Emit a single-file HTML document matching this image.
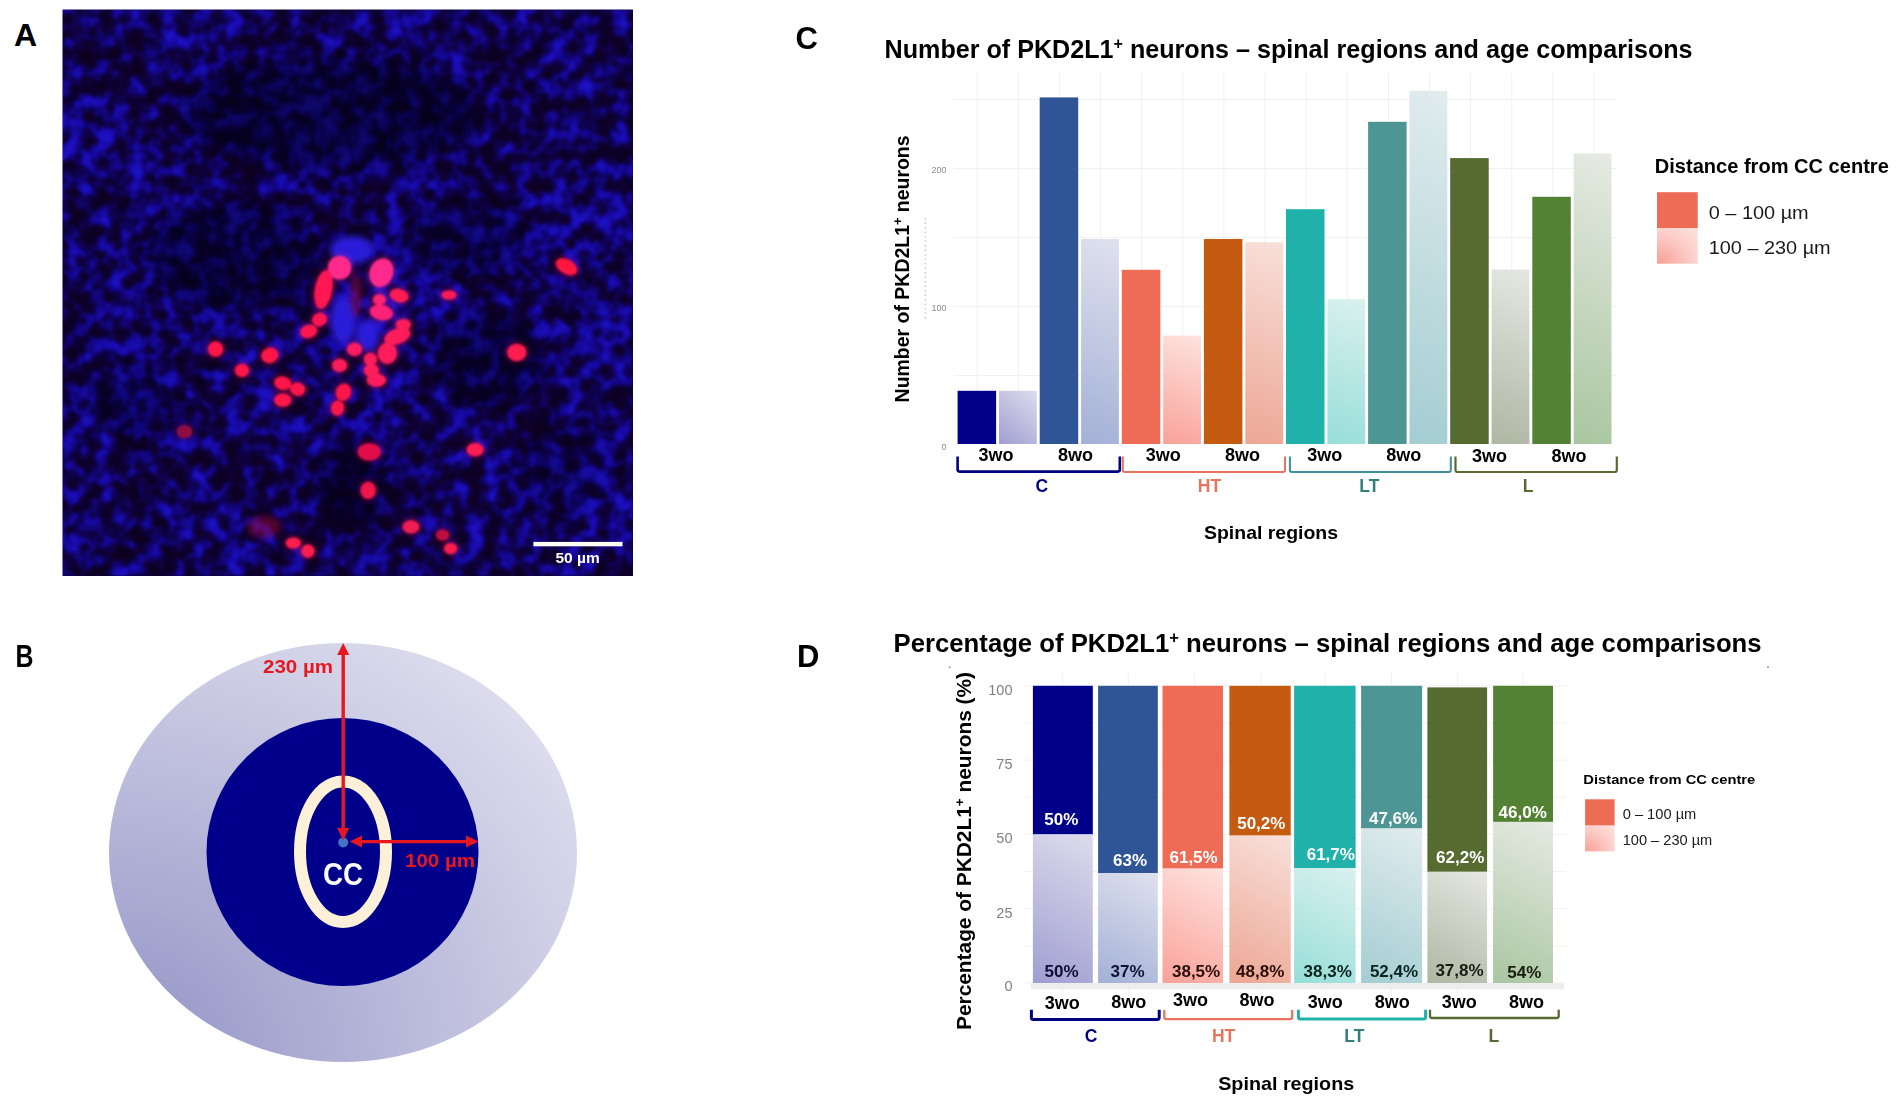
<!DOCTYPE html>
<html lang="en"><head><meta charset="utf-8"><title>PKD2L1 neurons figure</title>
<style>html,body{margin:0;padding:0;background:#fff;}body{width:1902px;height:1105px;overflow:hidden;}svg{display:block;font-family:"Liberation Sans",sans-serif;}</style>
</head><body>
<svg width="1902" height="1105" viewBox="0 0 1902 1105">
<rect width="1902" height="1105" fill="#ffffff"/>
<defs>
<filter id="cells" x="0" y="0" width="100%" height="100%" color-interpolation-filters="sRGB">
<feTurbulence type="fractalNoise" baseFrequency="0.062" numOctaves="2" seed="11" result="n"/>
<feColorMatrix in="n" type="matrix" values="0 0 1 0 0  0 0 1 0 0  0 0 1 0 0  0 0 0 0 1" result="g"/>
<feTurbulence type="fractalNoise" baseFrequency="0.011" numOctaves="2" seed="3" result="m"/>
<feColorMatrix in="m" type="matrix" values="1 0 0 0 0  1 0 0 0 0  1 0 0 0 0  0 0 0 0 1" result="mg"/>
<feComposite in="g" in2="mg" operator="arithmetic" k1="0" k2="1" k3="0.36" k4="-0.17" result="gm"/>
<feComponentTransfer in="gm">
<feFuncR type="table" tableValues="0.05 0.05 0.05 0.05 0.055 0.06 0.075 0.09 0.11 0.12 0.12"/>
<feFuncG type="table" tableValues="0 0 0 0 0.005 0.01 0.02 0.04 0.06 0.07 0.07"/>
<feFuncB type="table" tableValues="0.13 0.13 0.13 0.15 0.20 0.31 0.49 0.65 0.74 0.78 0.78"/>
</feComponentTransfer>
<feGaussianBlur stdDeviation="1.0"/></filter>
<filter id="b1"><feGaussianBlur stdDeviation="1.3"/></filter>
<filter id="b3"><feGaussianBlur stdDeviation="3"/></filter>
<filter id="b8"><feGaussianBlur stdDeviation="9"/></filter>
<clipPath id="clipA"><rect x="62.5" y="9.5" width="570.5" height="566.5"/></clipPath>
<radialGradient id="gOuter" cx="0" cy="1" fx="0" fy="1" r="1.414"><stop offset="0" stop-color="rgb(145,145,197)"/><stop offset="1" stop-color="rgb(233,233,244)"/></radialGradient>
<radialGradient id="gLeg" cx="0" cy="1" fx="0" fy="1" r="1.3"><stop offset="0" stop-color="#f89d93"/><stop offset="0.55" stop-color="#fcc6c0"/><stop offset="1" stop-color="#fde0dc"/></radialGradient>
</defs>
<defs><linearGradient id="u0" gradientUnits="userSpaceOnUse" x1="999.0" y1="444.6" x2="1041.1" y2="394.4"><stop offset="0" stop-color="#a09ed2"/><stop offset="1" stop-color="#dddcec"/></linearGradient><linearGradient id="u1" gradientUnits="userSpaceOnUse" x1="1081.1" y1="444.6" x2="1157.8" y2="254.7"><stop offset="0" stop-color="#a3b0d6"/><stop offset="1" stop-color="#dfe1ee"/></linearGradient><linearGradient id="u2" gradientUnits="userSpaceOnUse" x1="1163.2" y1="444.6" x2="1206.4" y2="337.7"><stop offset="0" stop-color="#f9a198"/><stop offset="1" stop-color="#fee3df"/></linearGradient><linearGradient id="u3" gradientUnits="userSpaceOnUse" x1="1245.3" y1="444.6" x2="1320.9" y2="257.4"><stop offset="0" stop-color="#eda694"/><stop offset="1" stop-color="#f8e0da"/></linearGradient><linearGradient id="u4" gradientUnits="userSpaceOnUse" x1="1327.4" y1="444.6" x2="1383.2" y2="306.4"><stop offset="0" stop-color="#97ded8"/><stop offset="1" stop-color="#daf1ef"/></linearGradient><linearGradient id="u5" gradientUnits="userSpaceOnUse" x1="1409.5" y1="444.6" x2="1537.7" y2="127.3"><stop offset="0" stop-color="#a3cdd2"/><stop offset="1" stop-color="#e1ecee"/></linearGradient><linearGradient id="u6" gradientUnits="userSpaceOnUse" x1="1491.6" y1="444.6" x2="1557.7" y2="280.9"><stop offset="0" stop-color="#aeb6a3"/><stop offset="1" stop-color="#e5e8e2"/></linearGradient><linearGradient id="u7" gradientUnits="userSpaceOnUse" x1="1573.7" y1="444.6" x2="1680.1" y2="181.2"><stop offset="0" stop-color="#a9c6a0"/><stop offset="1" stop-color="#e6eae3"/></linearGradient><linearGradient id="u8" gradientUnits="userSpaceOnUse" x1="1032.9" y1="983.0" x2="1107.7" y2="842.3"><stop offset="0" stop-color="#a09ed2"/><stop offset="1" stop-color="#dddcec"/></linearGradient><linearGradient id="u9" gradientUnits="userSpaceOnUse" x1="1098.1" y1="983.0" x2="1156.8" y2="872.5"><stop offset="0" stop-color="#a3b0d6"/><stop offset="1" stop-color="#dfe1ee"/></linearGradient><linearGradient id="u10" gradientUnits="userSpaceOnUse" x1="1162.5" y1="983.0" x2="1223.3" y2="868.7"><stop offset="0" stop-color="#f9a198"/><stop offset="1" stop-color="#fee3df"/></linearGradient><linearGradient id="u11" gradientUnits="userSpaceOnUse" x1="1229.4" y1="983.0" x2="1304.0" y2="842.7"><stop offset="0" stop-color="#eda694"/><stop offset="1" stop-color="#f8e0da"/></linearGradient><linearGradient id="u12" gradientUnits="userSpaceOnUse" x1="1294.1" y1="983.0" x2="1355.3" y2="867.8"><stop offset="0" stop-color="#97ded8"/><stop offset="1" stop-color="#daf1ef"/></linearGradient><linearGradient id="u13" gradientUnits="userSpaceOnUse" x1="1361.1" y1="983.0" x2="1438.6" y2="837.2"><stop offset="0" stop-color="#a3cdd2"/><stop offset="1" stop-color="#e1ecee"/></linearGradient><linearGradient id="u14" gradientUnits="userSpaceOnUse" x1="1427.4" y1="983.0" x2="1486.6" y2="871.6"><stop offset="0" stop-color="#aeb6a3"/><stop offset="1" stop-color="#e5e8e2"/></linearGradient><linearGradient id="u15" gradientUnits="userSpaceOnUse" x1="1493.1" y1="983.0" x2="1573.1" y2="832.6"><stop offset="0" stop-color="#a9c6a0"/><stop offset="1" stop-color="#e6eae3"/></linearGradient></defs>
<g id="panelA">
<text x="14" y="46.3" font-size="32" font-weight="bold" fill="#000" text-anchor="start" >A</text>
<g clip-path="url(#clipA)">
<rect x="62.5" y="9.5" width="570.5" height="566.5" fill="#0b0030"/>
<rect x="62.5" y="9.5" width="570.5" height="566.5" filter="url(#cells)"/>
<g filter="url(#b8)" fill="#08001c">
<ellipse cx="330" cy="112" rx="150" ry="55" opacity="0.5"/>
<ellipse cx="232" cy="255" rx="85" ry="55" opacity="0.45"/>
<ellipse cx="487" cy="359" rx="55" ry="48" opacity="0.4"/>
<ellipse cx="466" cy="239" rx="60" ry="38" opacity="0.35"/>
<ellipse cx="351" cy="484" rx="35" ry="45" opacity="0.4"/>
<ellipse cx="128" cy="400" rx="40" ry="35" opacity="0.3"/>
<ellipse cx="560" cy="470" rx="40" ry="40" opacity="0.25"/>
</g>
<g filter="url(#b3)" fill="#2a1ad8">
<ellipse cx="352" cy="250" rx="22" ry="14"/>
<ellipse cx="343" cy="320" rx="13" ry="24"/>
<ellipse cx="368" cy="335" rx="12" ry="16"/>
</g>
<g filter="url(#b3)" fill="#c0102a" opacity="0.4">
<ellipse cx="264" cy="527" rx="17" ry="11"/>
<ellipse cx="356" cy="295" rx="6" ry="22"/>
</g>
<g filter="url(#b3)" opacity="0.45">
<ellipse cx="339.6" cy="267.7" rx="12.5" ry="12.5" fill="#ff2a8c" transform="rotate(0 339.6 267.7)"/>
<ellipse cx="381.4" cy="272.7" rx="12.5" ry="15.5" fill="#ff2a8c" transform="rotate(20 381.4 272.7)"/>
<ellipse cx="323.6" cy="289.6" rx="9.5" ry="20.5" fill="#ff1452" transform="rotate(10 323.6 289.6)"/>
<ellipse cx="399.3" cy="295.6" rx="10.5" ry="7.5" fill="#ff1a55" transform="rotate(15 399.3 295.6)"/>
<ellipse cx="449" cy="295" rx="8.5" ry="5.5" fill="#ff1a55" transform="rotate(0 449 295)"/>
<ellipse cx="566.6" cy="266.7" rx="12.5" ry="8.0" fill="#ff1440" transform="rotate(30 566.6 266.7)"/>
<ellipse cx="379.4" cy="299.6" rx="7.5" ry="6.5" fill="#ff2070" transform="rotate(0 379.4 299.6)"/>
<ellipse cx="381.4" cy="312.5" rx="12.5" ry="8.5" fill="#ff2078" transform="rotate(10 381.4 312.5)"/>
<ellipse cx="319.6" cy="319.5" rx="8.5" ry="7.5" fill="#ff1450" transform="rotate(-20 319.6 319.5)"/>
<ellipse cx="308.7" cy="331.4" rx="9.5" ry="7.5" fill="#ff1450" transform="rotate(-15 308.7 331.4)"/>
<ellipse cx="403.3" cy="324.5" rx="8.5" ry="6.5" fill="#ff1a5a" transform="rotate(0 403.3 324.5)"/>
<ellipse cx="397.3" cy="336.4" rx="14.5" ry="8.5" fill="#ff1a5a" transform="rotate(-20 397.3 336.4)"/>
<ellipse cx="354.5" cy="349.3" rx="8.5" ry="7.5" fill="#ff1a60" transform="rotate(0 354.5 349.3)"/>
<ellipse cx="387.4" cy="353.3" rx="10.5" ry="11.5" fill="#ff1a5a" transform="rotate(0 387.4 353.3)"/>
<ellipse cx="370.4" cy="359.3" rx="7.5" ry="7.5" fill="#ff1a5a" transform="rotate(0 370.4 359.3)"/>
<ellipse cx="339.6" cy="365.3" rx="8.5" ry="7.5" fill="#ff1a5a" transform="rotate(0 339.6 365.3)"/>
<ellipse cx="371.4" cy="370.3" rx="8.5" ry="7.5" fill="#ff1a5a" transform="rotate(0 371.4 370.3)"/>
<ellipse cx="376.4" cy="380.2" rx="10.5" ry="7.5" fill="#ff1a5a" transform="rotate(0 376.4 380.2)"/>
<ellipse cx="269.9" cy="355.3" rx="9.5" ry="8.5" fill="#ff1448" transform="rotate(-20 269.9 355.3)"/>
<ellipse cx="242" cy="370.3" rx="8.0" ry="7.5" fill="#ff1448" transform="rotate(0 242 370.3)"/>
<ellipse cx="282.8" cy="383.2" rx="9.5" ry="7.5" fill="#ff1448" transform="rotate(10 282.8 383.2)"/>
<ellipse cx="297.7" cy="389.2" rx="8.5" ry="7.5" fill="#ff1448" transform="rotate(10 297.7 389.2)"/>
<ellipse cx="282.8" cy="400.1" rx="9.5" ry="7.5" fill="#ff1448" transform="rotate(0 282.8 400.1)"/>
<ellipse cx="343.5" cy="392.2" rx="8.5" ry="9.5" fill="#ff1448" transform="rotate(20 343.5 392.2)"/>
<ellipse cx="337.6" cy="408.1" rx="7.5" ry="8.5" fill="#ff1448" transform="rotate(10 337.6 408.1)"/>
<ellipse cx="516.8" cy="352.3" rx="10.5" ry="9.5" fill="#ff1a50" transform="rotate(0 516.8 352.3)"/>
<ellipse cx="215.6" cy="349.2" rx="8.5" ry="8.5" fill="#ff1448" transform="rotate(0 215.6 349.2)"/>
<ellipse cx="369.3" cy="451.8" rx="12.5" ry="9.5" fill="#e0104a" transform="rotate(0 369.3 451.8)"/>
<ellipse cx="475.2" cy="449.7" rx="9.5" ry="7.5" fill="#ff1a55" transform="rotate(0 475.2 449.7)"/>
<ellipse cx="368.2" cy="490.4" rx="8.5" ry="9.5" fill="#f01448" transform="rotate(0 368.2 490.4)"/>
<ellipse cx="411" cy="526.8" rx="9.5" ry="7.5" fill="#f01a55" transform="rotate(0 411 526.8)"/>
<ellipse cx="442.6" cy="535" rx="7.5" ry="6.5" fill="#c01040" transform="rotate(0 442.6 535)"/>
<ellipse cx="450.7" cy="548.5" rx="7.5" ry="6.5" fill="#ff1a50" transform="rotate(0 450.7 548.5)"/>
<ellipse cx="293.3" cy="543" rx="8.5" ry="6.5" fill="#ff1a50" transform="rotate(0 293.3 543)"/>
<ellipse cx="307.9" cy="551.2" rx="7.5" ry="7.5" fill="#ff1a50" transform="rotate(0 307.9 551.2)"/>
<ellipse cx="184.6" cy="431.7" rx="8.5" ry="7.5" fill="#901040" transform="rotate(0 184.6 431.7)"/>
</g>
<g filter="url(#b1)" opacity="1">
<ellipse cx="339.6" cy="267.7" rx="11.6" ry="11.6" fill="#ff2a8c" transform="rotate(0 339.6 267.7)"/>
<ellipse cx="381.4" cy="272.7" rx="11.6" ry="14.6" fill="#ff2a8c" transform="rotate(20 381.4 272.7)"/>
<ellipse cx="323.6" cy="289.6" rx="8.6" ry="19.6" fill="#ff1452" transform="rotate(10 323.6 289.6)"/>
<ellipse cx="399.3" cy="295.6" rx="9.6" ry="6.6" fill="#ff1a55" transform="rotate(15 399.3 295.6)"/>
<ellipse cx="449" cy="295" rx="7.6" ry="4.6" fill="#ff1a55" transform="rotate(0 449 295)"/>
<ellipse cx="566.6" cy="266.7" rx="11.6" ry="7.1" fill="#ff1440" transform="rotate(30 566.6 266.7)"/>
<ellipse cx="379.4" cy="299.6" rx="6.6" ry="5.6" fill="#ff2070" transform="rotate(0 379.4 299.6)"/>
<ellipse cx="381.4" cy="312.5" rx="11.6" ry="7.6" fill="#ff2078" transform="rotate(10 381.4 312.5)"/>
<ellipse cx="319.6" cy="319.5" rx="7.6" ry="6.6" fill="#ff1450" transform="rotate(-20 319.6 319.5)"/>
<ellipse cx="308.7" cy="331.4" rx="8.6" ry="6.6" fill="#ff1450" transform="rotate(-15 308.7 331.4)"/>
<ellipse cx="403.3" cy="324.5" rx="7.6" ry="5.6" fill="#ff1a5a" transform="rotate(0 403.3 324.5)"/>
<ellipse cx="397.3" cy="336.4" rx="13.6" ry="7.6" fill="#ff1a5a" transform="rotate(-20 397.3 336.4)"/>
<ellipse cx="354.5" cy="349.3" rx="7.6" ry="6.6" fill="#ff1a60" transform="rotate(0 354.5 349.3)"/>
<ellipse cx="387.4" cy="353.3" rx="9.6" ry="10.6" fill="#ff1a5a" transform="rotate(0 387.4 353.3)"/>
<ellipse cx="370.4" cy="359.3" rx="6.6" ry="6.6" fill="#ff1a5a" transform="rotate(0 370.4 359.3)"/>
<ellipse cx="339.6" cy="365.3" rx="7.6" ry="6.6" fill="#ff1a5a" transform="rotate(0 339.6 365.3)"/>
<ellipse cx="371.4" cy="370.3" rx="7.6" ry="6.6" fill="#ff1a5a" transform="rotate(0 371.4 370.3)"/>
<ellipse cx="376.4" cy="380.2" rx="9.6" ry="6.6" fill="#ff1a5a" transform="rotate(0 376.4 380.2)"/>
<ellipse cx="269.9" cy="355.3" rx="8.6" ry="7.6" fill="#ff1448" transform="rotate(-20 269.9 355.3)"/>
<ellipse cx="242" cy="370.3" rx="7.1" ry="6.6" fill="#ff1448" transform="rotate(0 242 370.3)"/>
<ellipse cx="282.8" cy="383.2" rx="8.6" ry="6.6" fill="#ff1448" transform="rotate(10 282.8 383.2)"/>
<ellipse cx="297.7" cy="389.2" rx="7.6" ry="6.6" fill="#ff1448" transform="rotate(10 297.7 389.2)"/>
<ellipse cx="282.8" cy="400.1" rx="8.6" ry="6.6" fill="#ff1448" transform="rotate(0 282.8 400.1)"/>
<ellipse cx="343.5" cy="392.2" rx="7.6" ry="8.6" fill="#ff1448" transform="rotate(20 343.5 392.2)"/>
<ellipse cx="337.6" cy="408.1" rx="6.6" ry="7.6" fill="#ff1448" transform="rotate(10 337.6 408.1)"/>
<ellipse cx="516.8" cy="352.3" rx="9.6" ry="8.6" fill="#ff1a50" transform="rotate(0 516.8 352.3)"/>
<ellipse cx="215.6" cy="349.2" rx="7.6" ry="7.6" fill="#ff1448" transform="rotate(0 215.6 349.2)"/>
<ellipse cx="369.3" cy="451.8" rx="11.6" ry="8.6" fill="#e0104a" transform="rotate(0 369.3 451.8)"/>
<ellipse cx="475.2" cy="449.7" rx="8.6" ry="6.6" fill="#ff1a55" transform="rotate(0 475.2 449.7)"/>
<ellipse cx="368.2" cy="490.4" rx="7.6" ry="8.6" fill="#f01448" transform="rotate(0 368.2 490.4)"/>
<ellipse cx="411" cy="526.8" rx="8.6" ry="6.6" fill="#f01a55" transform="rotate(0 411 526.8)"/>
<ellipse cx="442.6" cy="535" rx="6.6" ry="5.6" fill="#c01040" transform="rotate(0 442.6 535)"/>
<ellipse cx="450.7" cy="548.5" rx="6.6" ry="5.6" fill="#ff1a50" transform="rotate(0 450.7 548.5)"/>
<ellipse cx="293.3" cy="543" rx="7.6" ry="5.6" fill="#ff1a50" transform="rotate(0 293.3 543)"/>
<ellipse cx="307.9" cy="551.2" rx="6.6" ry="6.6" fill="#ff1a50" transform="rotate(0 307.9 551.2)"/>
<ellipse cx="184.6" cy="431.7" rx="7.6" ry="6.6" fill="#901040" transform="rotate(0 184.6 431.7)"/>
</g>
<rect x="533.4" y="541.9" width="89.1" height="4.4" fill="#fff"/>
<text x="577.6" y="563" font-size="15.5" font-weight="bold" fill="#fff" text-anchor="middle" >50 µm</text>
</g></g>
<g id="panelB">
<text x="15.5" y="667.2" font-size="31" font-weight="bold" fill="#000" text-anchor="start" textLength="18" lengthAdjust="spacingAndGlyphs" >B</text>
<ellipse cx="343" cy="852.5" rx="234" ry="209.5" fill="url(#gOuter)"/>
<ellipse cx="342.5" cy="852" rx="136" ry="134" fill="#00008b"/>
<ellipse cx="343" cy="851.7" rx="43" ry="70.3" fill="none" stroke="#fdf0d8" stroke-width="12"/>
<circle cx="343.2" cy="842.4" r="5" fill="#4472c4"/>
<g stroke="#e8171f" fill="#e8171f" stroke-width="3.4"><line x1="343.2" y1="652" x2="343.2" y2="830"/><line x1="358" y1="841.6" x2="470" y2="841.6"/>
<path d="M343.2 643 L349.2 655 L337.2 655 Z" stroke="none"/><path d="M343.2 840.5 L349.2 828 L337.2 828 Z" stroke="none"/>
<path d="M349.7 841.6 L362 835.6 L362 847.6 Z" stroke="none"/><path d="M478.5 841.6 L466 835.6 L466 847.6 Z" stroke="none"/></g>
<text x="263" y="673.4" font-size="19" font-weight="bold" fill="#e8171f" text-anchor="start" textLength="70" lengthAdjust="spacingAndGlyphs" >230 µm</text>
<text x="405" y="866.6" font-size="19" font-weight="bold" fill="#e8171f" text-anchor="start" textLength="70" lengthAdjust="spacingAndGlyphs" >100 µm</text>
<text x="323" y="884.5" font-size="32" font-weight="bold" fill="#fff" text-anchor="start" textLength="40" lengthAdjust="spacingAndGlyphs" >CC</text>
</g>
<g id="panelC">
<text x="795.5" y="48.6" font-size="31" font-weight="bold" fill="#000" text-anchor="start" >C</text>
<text x="884.6" y="57.8" font-size="25" font-weight="bold" textLength="808" lengthAdjust="spacingAndGlyphs">Number of PKD2L1<tspan font-size="16" dy="-9">+</tspan><tspan dy="9"> neurons – spinal regions and age comparisons</tspan></text>
<g stroke="#f0f0f0" stroke-width="1">
<line x1="977.2" y1="73" x2="977.2" y2="444.6"/>
<line x1="1018.3" y1="73" x2="1018.3" y2="444.6"/>
<line x1="1059.4" y1="73" x2="1059.4" y2="444.6"/>
<line x1="1100.6" y1="73" x2="1100.6" y2="444.6"/>
<line x1="1141.7" y1="73" x2="1141.7" y2="444.6"/>
<line x1="1182.8" y1="73" x2="1182.8" y2="444.6"/>
<line x1="1223.9" y1="73" x2="1223.9" y2="444.6"/>
<line x1="1265.0" y1="73" x2="1265.0" y2="444.6"/>
<line x1="1306.2" y1="73" x2="1306.2" y2="444.6"/>
<line x1="1347.3" y1="73" x2="1347.3" y2="444.6"/>
<line x1="1388.4" y1="73" x2="1388.4" y2="444.6"/>
<line x1="1429.5" y1="73" x2="1429.5" y2="444.6"/>
<line x1="1470.6" y1="73" x2="1470.6" y2="444.6"/>
<line x1="1511.8" y1="73" x2="1511.8" y2="444.6"/>
<line x1="1552.9" y1="73" x2="1552.9" y2="444.6"/>
<line x1="1594.0" y1="73" x2="1594.0" y2="444.6"/>
<line x1="954" y1="375.6" x2="1616" y2="375.6"/>
<line x1="954" y1="306.6" x2="1616" y2="306.6"/>
<line x1="954" y1="237.6" x2="1616" y2="237.6"/>
<line x1="954" y1="168.6" x2="1616" y2="168.6"/>
<line x1="954" y1="99.6" x2="1616" y2="99.6"/>
</g>
<rect x="957.6" y="390.8" width="38.5" height="53.2" fill="#00008b"/>
<rect x="999.0" y="390.8" width="37.8" height="53.2" fill="url(#u0)"/>
<rect x="1039.7" y="97.4" width="38.5" height="346.6" fill="#2f5597"/>
<rect x="1081.1" y="239.0" width="37.8" height="205.0" fill="url(#u1)"/>
<rect x="1121.8" y="269.8" width="38.5" height="174.2" fill="#ee6c55"/>
<rect x="1163.2" y="335.6" width="37.8" height="108.4" fill="url(#u2)"/>
<rect x="1203.9" y="239.0" width="38.5" height="205.0" fill="#c55a11"/>
<rect x="1245.3" y="242.2" width="37.8" height="201.8" fill="url(#u3)"/>
<rect x="1286.0" y="209.2" width="38.5" height="234.8" fill="#20b2aa"/>
<rect x="1327.4" y="299.1" width="37.8" height="144.9" fill="url(#u4)"/>
<rect x="1368.1" y="121.8" width="38.5" height="322.2" fill="#4e9595"/>
<rect x="1409.5" y="90.8" width="37.8" height="353.2" fill="url(#u5)"/>
<rect x="1450.2" y="158.1" width="38.5" height="285.9" fill="#556b2f"/>
<rect x="1491.6" y="269.5" width="37.8" height="174.5" fill="url(#u6)"/>
<rect x="1532.3" y="196.8" width="38.5" height="247.2" fill="#548235"/>
<rect x="1573.7" y="153.4" width="37.8" height="290.6" fill="url(#u7)"/>
<text x="946.5" y="449.6" font-size="9" font-weight="normal" fill="#8a8a8a" text-anchor="end" >0</text>
<text x="946.5" y="311.3" font-size="9" font-weight="normal" fill="#8a8a8a" text-anchor="end" >100</text>
<text x="946.5" y="173" font-size="9" font-weight="normal" fill="#8a8a8a" text-anchor="end" >200</text>
<line x1="925.2" y1="218" x2="925.2" y2="320" stroke="#b0b0b0" stroke-width="1" stroke-dasharray="1.5 3"/>
<text transform="translate(909.4,268.9) rotate(-90)" text-anchor="middle" font-size="20" font-weight="bold" textLength="267" lengthAdjust="spacingAndGlyphs">Number of PKD2L1<tspan font-size="13" dy="-7">+</tspan><tspan dy="7"> neurons</tspan></text>
<text x="996.1" y="461.2" font-size="18" font-weight="bold" fill="#000" text-anchor="middle" >3wo</text>
<text x="1075.6" y="461.2" font-size="18" font-weight="bold" fill="#000" text-anchor="middle" >8wo</text>
<text x="1163.3" y="461.2" font-size="18" font-weight="bold" fill="#000" text-anchor="middle" >3wo</text>
<text x="1242.6" y="461.2" font-size="18" font-weight="bold" fill="#000" text-anchor="middle" >8wo</text>
<text x="1324.7" y="460.9" font-size="18" font-weight="bold" fill="#000" text-anchor="middle" >3wo</text>
<text x="1403.7" y="460.9" font-size="18" font-weight="bold" fill="#000" text-anchor="middle" >8wo</text>
<text x="1489.4" y="461.8" font-size="18" font-weight="bold" fill="#000" text-anchor="middle" >3wo</text>
<text x="1568.9" y="461.8" font-size="18" font-weight="bold" fill="#000" text-anchor="middle" >8wo</text>
<path d="M957.6 456.5 V469.6 Q957.6 471.6 959.6 471.6 H1117.8 Q1119.8 471.6 1119.8 469.6 V456.5" fill="none" stroke="#000080" stroke-width="2.6"/>
<path d="M1122.8 456.5 V470 Q1122.8 472 1124.8 472 H1283 Q1285 472 1285 470 V456.5" fill="none" stroke="#e9735c" stroke-width="2.0"/>
<path d="M1289.9 456.5 V470 Q1289.9 472 1291.9 472 H1448.8 Q1450.8 472 1450.8 470 V456.5" fill="none" stroke="#3f8f96" stroke-width="2.0"/>
<path d="M1455.5 456.5 V470 Q1455.5 472 1457.5 472 H1614.8 Q1616.8 472 1616.8 470 V456.5" fill="none" stroke="#556b2f" stroke-width="2.2"/>
<text x="1041.7" y="491.5" font-size="17.5" font-weight="bold" fill="#000080" text-anchor="middle" >C</text>
<text x="1209.5" y="491.5" font-size="17.5" font-weight="bold" fill="#e9735c" text-anchor="middle" >HT</text>
<text x="1369.4" y="491.5" font-size="17.5" font-weight="bold" fill="#2f7f7f" text-anchor="middle" >LT</text>
<text x="1528.2" y="491.5" font-size="17.5" font-weight="bold" fill="#556b2f" text-anchor="middle" >L</text>
<text x="1204" y="538.8" font-size="19" font-weight="bold" fill="#000" text-anchor="start" textLength="134" lengthAdjust="spacingAndGlyphs" >Spinal regions</text>
<text x="1654.8" y="172.5" font-size="19.5" font-weight="bold" fill="#000" text-anchor="start" textLength="234" lengthAdjust="spacingAndGlyphs" >Distance from CC centre</text>
<rect x="1657" y="192.2" width="40.7" height="36" fill="#ee6c55"/>
<rect x="1657" y="228.2" width="40.7" height="35.5" fill="url(#gLeg)"/>
<text x="1708.7" y="219" font-size="19" font-weight="normal" fill="#1a1a1a" text-anchor="start" textLength="100" lengthAdjust="spacingAndGlyphs" >0 – 100 µm</text>
<text x="1708.7" y="254" font-size="19" font-weight="normal" fill="#1a1a1a" text-anchor="start" textLength="122" lengthAdjust="spacingAndGlyphs" >100 – 230 µm</text>
</g>
<g id="panelD">
<text x="797" y="666.5" font-size="31" font-weight="bold" fill="#000" text-anchor="start" >D</text>
<text x="893.6" y="652" font-size="25" font-weight="bold" textLength="868" lengthAdjust="spacingAndGlyphs">Percentage of PKD2L1<tspan font-size="16" dy="-9">+</tspan><tspan dy="9"> neurons – spinal regions and age comparisons</tspan></text>
<g stroke="#f1f1f1" stroke-width="1">
<line x1="1062.6" y1="673" x2="1062.6" y2="996"/>
<line x1="1128.3" y1="673" x2="1128.3" y2="996"/>
<line x1="1194.6" y1="673" x2="1194.6" y2="996"/>
<line x1="1261" y1="673" x2="1261" y2="996"/>
<line x1="1325" y1="673" x2="1325" y2="996"/>
<line x1="1391.5" y1="673" x2="1391.5" y2="996"/>
<line x1="1457.5" y1="673" x2="1457.5" y2="996"/>
<line x1="1523" y1="673" x2="1523" y2="996"/>
<line x1="1025" y1="685.8" x2="1566" y2="685.8"/>
<line x1="1025" y1="722.9" x2="1566" y2="722.9"/>
<line x1="1025" y1="760.1" x2="1566" y2="760.1"/>
<line x1="1025" y1="797.2" x2="1566" y2="797.2"/>
<line x1="1025" y1="834.4" x2="1566" y2="834.4"/>
<line x1="1025" y1="871.5" x2="1566" y2="871.5"/>
<line x1="1025" y1="908.7" x2="1566" y2="908.7"/>
<line x1="1025" y1="945.9" x2="1566" y2="945.9"/>
<line x1="1025" y1="983.0" x2="1566" y2="983.0"/>
</g>
<rect x="1031" y="983.2" width="533" height="6.2" fill="#ededed"/>
<rect x="1032.9" y="685.8" width="59.9" height="148.6" fill="#00008b"/>
<rect x="1032.9" y="834.4" width="59.9" height="148.6" fill="url(#u8)"/>
<rect x="1098.1" y="685.8" width="59.7" height="187.2" fill="#2f5597"/>
<rect x="1098.1" y="873.0" width="59.7" height="110.0" fill="url(#u9)"/>
<rect x="1162.5" y="685.8" width="60.5" height="182.8" fill="#ee6c55"/>
<rect x="1162.5" y="868.6" width="60.5" height="114.4" fill="url(#u10)"/>
<rect x="1229.4" y="685.8" width="61.3" height="149.8" fill="#c55a11"/>
<rect x="1229.4" y="835.6" width="61.3" height="147.4" fill="url(#u11)"/>
<rect x="1294.1" y="685.8" width="61.5" height="182.2" fill="#20b2aa"/>
<rect x="1294.1" y="868.0" width="61.5" height="115.0" fill="url(#u12)"/>
<rect x="1361.1" y="685.8" width="61.0" height="142.7" fill="#4e9595"/>
<rect x="1361.1" y="828.5" width="61.0" height="154.5" fill="url(#u13)"/>
<rect x="1427.4" y="687.4" width="59.7" height="184.4" fill="#556b2f"/>
<rect x="1427.4" y="871.8" width="59.7" height="111.2" fill="url(#u14)"/>
<rect x="1493.1" y="685.8" width="59.9" height="136.1" fill="#548235"/>
<rect x="1493.1" y="821.9" width="59.9" height="161.1" fill="url(#u15)"/>
<text x="1012.5" y="694.9000000000001" font-size="14.5" font-weight="normal" fill="#7f7f7f" text-anchor="end" >100</text>
<text x="1012.5" y="768.5" font-size="14.5" font-weight="normal" fill="#7f7f7f" text-anchor="end" >75</text>
<text x="1012.5" y="843.4000000000001" font-size="14.5" font-weight="normal" fill="#7f7f7f" text-anchor="end" >50</text>
<text x="1012.5" y="917.6" font-size="14.5" font-weight="normal" fill="#7f7f7f" text-anchor="end" >25</text>
<text x="1012.5" y="990.8000000000001" font-size="14.5" font-weight="normal" fill="#7f7f7f" text-anchor="end" >0</text>
<text transform="translate(970.6,851) rotate(-90)" text-anchor="middle" font-size="20" font-weight="bold" textLength="358" lengthAdjust="spacingAndGlyphs">Percentage of PKD2L1<tspan font-size="13" dy="-7">+</tspan><tspan dy="7"> neurons (%)</tspan></text>
<text x="1061.3" y="825" font-size="17" font-weight="bold" fill="#fff" text-anchor="middle" >50%</text>
<text x="1130" y="865.5" font-size="17" font-weight="bold" fill="#fff" text-anchor="middle" >63%</text>
<text x="1193.6" y="862.9" font-size="17" font-weight="bold" fill="#fff" text-anchor="middle" >61,5%</text>
<text x="1261.3" y="829" font-size="17" font-weight="bold" fill="#fff" text-anchor="middle" >50,2%</text>
<text x="1330.8" y="859.8" font-size="17" font-weight="bold" fill="#fff" text-anchor="middle" >61,7%</text>
<text x="1393.1" y="823.5" font-size="17" font-weight="bold" fill="#fff" text-anchor="middle" >47,6%</text>
<text x="1460.2" y="863.2" font-size="17" font-weight="bold" fill="#fff" text-anchor="middle" >62,2%</text>
<text x="1522.7" y="817.7" font-size="17" font-weight="bold" fill="#fff" text-anchor="middle" >46,0%</text>
<text x="1061.6" y="976.9" font-size="17" font-weight="bold" fill="#0e0e36" text-anchor="middle" >50%</text>
<text x="1127.5" y="977" font-size="17" font-weight="bold" fill="#0e1236" text-anchor="middle" >37%</text>
<text x="1196.1" y="977" font-size="17" font-weight="bold" fill="#2a0d08" text-anchor="middle" >38,5%</text>
<text x="1260.2" y="977" font-size="17" font-weight="bold" fill="#2a0d08" text-anchor="middle" >48,8%</text>
<text x="1327.7" y="976.5" font-size="17" font-weight="bold" fill="#08231f" text-anchor="middle" >38,3%</text>
<text x="1394" y="976.5" font-size="17" font-weight="bold" fill="#08231f" text-anchor="middle" >52,4%</text>
<text x="1459.5" y="975.6" font-size="17" font-weight="bold" fill="#161c0e" text-anchor="middle" >37,8%</text>
<text x="1524.3" y="978.4" font-size="17" font-weight="bold" fill="#161c0e" text-anchor="middle" >54%</text>
<text x="1062.2" y="1008.5" font-size="18" font-weight="bold" fill="#000" text-anchor="middle" >3wo</text>
<text x="1128.8" y="1007.6" font-size="18" font-weight="bold" fill="#000" text-anchor="middle" >8wo</text>
<text x="1190.5" y="1005.7" font-size="18" font-weight="bold" fill="#000" text-anchor="middle" >3wo</text>
<text x="1256.9" y="1005.7" font-size="18" font-weight="bold" fill="#000" text-anchor="middle" >8wo</text>
<text x="1325.2" y="1007.6" font-size="18" font-weight="bold" fill="#000" text-anchor="middle" >3wo</text>
<text x="1392.2" y="1007.6" font-size="18" font-weight="bold" fill="#000" text-anchor="middle" >8wo</text>
<text x="1459.3" y="1007.6" font-size="18" font-weight="bold" fill="#000" text-anchor="middle" >3wo</text>
<text x="1526.4" y="1007.6" font-size="18" font-weight="bold" fill="#000" text-anchor="middle" >8wo</text>
<path d="M1031.4 1009.7 V1017.5 Q1031.4 1019.5 1033.4 1019.5 H1157.2 Q1159.2 1019.5 1159.2 1017.5 V1009.7" fill="none" stroke="#000080" stroke-width="3"/>
<path d="M1164.3 1010 V1017.1 Q1164.3 1019.1 1166.3 1019.1 H1290.2 Q1292.2 1019.1 1292.2 1017.1 V1010" fill="none" stroke="#e9735c" stroke-width="2.3"/>
<path d="M1298.4 1009.7 V1017.1 Q1298.4 1019.1 1300.4 1019.1 H1423.6 Q1425.6 1019.1 1425.6 1017.1 V1009.7" fill="none" stroke="#20b2aa" stroke-width="3"/>
<path d="M1430 1009.7 V1016 Q1430 1018 1432 1018 H1556.7 Q1558.7 1018 1558.7 1016 V1009.7" fill="none" stroke="#556b2f" stroke-width="2.3"/>
<text x="1091.1" y="1041.8" font-size="17.5" font-weight="bold" fill="#000080" text-anchor="middle" >C</text>
<text x="1223.6" y="1041.8" font-size="17.5" font-weight="bold" fill="#e9735c" text-anchor="middle" >HT</text>
<text x="1354.3" y="1041.8" font-size="17.5" font-weight="bold" fill="#2f7f7f" text-anchor="middle" >LT</text>
<text x="1493.8" y="1041.8" font-size="17.5" font-weight="bold" fill="#556b2f" text-anchor="middle" >L</text>
<text x="1218.2" y="1089.5" font-size="19" font-weight="bold" fill="#000" text-anchor="start" textLength="136" lengthAdjust="spacingAndGlyphs" >Spinal regions</text>
<text x="1583.3" y="784" font-size="13.5" font-weight="bold" fill="#000" text-anchor="start" textLength="172" lengthAdjust="spacingAndGlyphs" >Distance from CC centre</text>
<rect x="1585.1" y="799.3" width="29.5" height="26.3" fill="#ee6c55"/>
<rect x="1585.1" y="825.6" width="29.5" height="25.8" fill="url(#gLeg)"/>
<text x="1622.7" y="819" font-size="14" font-weight="normal" fill="#1a1a1a" text-anchor="start" textLength="73.6" lengthAdjust="spacingAndGlyphs" >0 – 100 µm</text>
<text x="1622.7" y="844.8" font-size="14" font-weight="normal" fill="#1a1a1a" text-anchor="start" textLength="89.6" lengthAdjust="spacingAndGlyphs" >100 – 230 µm</text>
<circle cx="949.6" cy="667.3" r="1" fill="#999"/><circle cx="1768" cy="667" r="1" fill="#999"/>
</g>
</svg></body></html>
